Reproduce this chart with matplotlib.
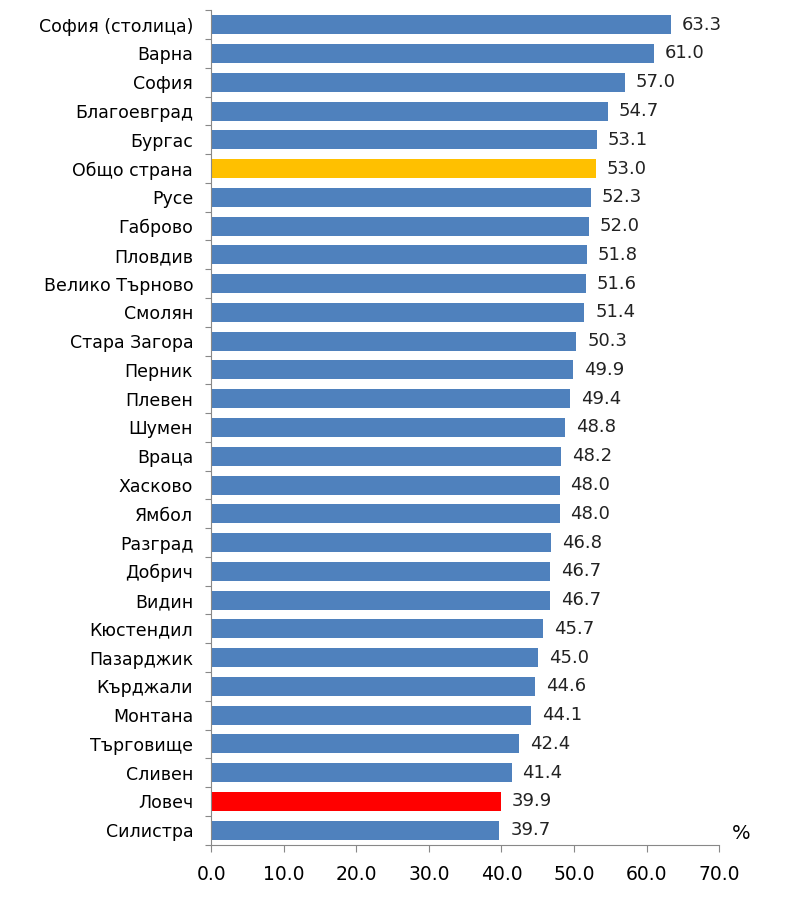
import matplotlib
matplotlib.use("Agg")
import matplotlib.pyplot as plt
from matplotlib import font_manager

regions = ["София (столица)", "Варна", "София", "Благоевград", "Бургас", "Общо страна",
           "Русе", "Габрово", "Пловдив", "Велико Търново", "Смолян", "Стара Загора",
           "Перник", "Плевен", "Шумен", "Враца", "Хасково", "Ямбол", "Разград",
           "Добрич", "Видин", "Кюстендил", "Пазарджик", "Кърджали", "Монтана",
           "Търговище", "Сливен", "Ловеч", "Силистра"]
values = [63.3, 61.0, 57.0, 54.7, 53.1, 53.0, 52.3, 52.0, 51.8, 51.6, 51.4, 50.3,
          49.9, 49.4, 48.8, 48.2, 48.0, 48.0, 46.8, 46.7, 46.7, 45.7, 45.0, 44.6,
          44.1, 42.4, 41.4, 39.9, 39.7]
xticks = [0, 10, 20, 30, 40, 50, 60, 70]

names = {f.name for f in font_manager.fontManager.ttflist}
fam = "DejaVu Sans Condensed" if "DejaVu Sans Condensed" in names else "DejaVu Sans"
plt.rcParams['font.family'] = [fam, 'DejaVu Sans']

colors = []
for r in regions:
    if r == "Общо страна":
        colors.append("#FFC000")
    elif r == "Ловеч":
        colors.append("#FF0000")
    else:
        colors.append("#4F81BD")

fig = plt.figure(figsize=(8, 8.99), dpi=100)
ax = fig.add_axes([0.264, 0.0605, 0.635, 0.928])
y = list(range(len(regions)))
ax.barh(y, values, height=0.66, color=colors)
ax.set_ylim(len(regions) - 0.5, -0.5)
ax.set_xlim(0, 70)

for yi, v in zip(y, values):
    ax.text(v + 1.5, yi, f"{v:.1f}", va="center", ha="left", fontsize=13, color="#222222")

ax.set_yticks([i + 0.5 for i in range(-1, len(regions))], minor=False)
ax.set_yticklabels([])
ax.set_yticks(y, minor=True)
ax.set_yticklabels(regions, minor=True, fontsize=12.5)
ax.tick_params(axis='y', which='minor', length=0, pad=13)
ax.tick_params(axis='y', which='major', length=4, color="#888888", direction='out')

ax.set_xticks(xticks)
ax.set_xticklabels([f"{t:.1f}" for t in xticks], fontsize=13.5)
ax.tick_params(axis='x', length=5, color="#888888", pad=10)

for s in ['top', 'right']:
    ax.spines[s].set_visible(False)
for s in ['left', 'bottom']:
    ax.spines[s].set_color("#888888")

fig.text(0.926, 0.062, "%", fontsize=14, ha="center", va="bottom")

fig.savefig("out.png", dpi=100, facecolor="white")
